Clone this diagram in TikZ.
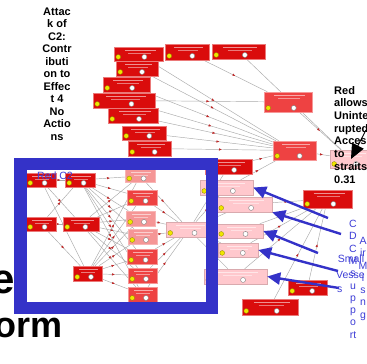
\documentclass[tikz,border=0pt]{standalone}
\usepackage{fontspec}
\setmainfont{Liberation Sans}
\usetikzlibrary{arrows.meta,decorations.markings,backgrounds}

\definecolor{boxred}{RGB}{218,12,12}
\definecolor{boxmid}{RGB}{238,66,66}
\definecolor{boxlight}{RGB}{245,150,150}
\definecolor{boxpink}{RGB}{255,200,205}
\definecolor{linkgray}{RGB}{170,170,170}
\definecolor{markred}{RGB}{190,40,40}
\definecolor{frameblue}{RGB}{52,50,200}
\definecolor{textblue}{RGB}{62,62,215}
\definecolor{dotyellow}{RGB}{240,230,0}

\begin{document}
\begin{tikzpicture}[x=1pt,y=-1pt,
  rbox/.style={fill=boxred,draw=boxred!55!white,line width=0.5pt,inner sep=0pt},
  mbox/.style={fill=boxmid,draw=boxmid!55!white,line width=0.5pt,inner sep=0pt},
  lbox/.style={fill=boxlight,draw=boxlight!70!white,line width=0.5pt,inner sep=0pt},
  pbox/.style={fill=boxpink,draw=boxpink!85!black,line width=0.5pt,inner sep=0pt},
  link/.style={draw=linkgray,line width=0.45pt,postaction={decorate},
    decoration={markings,mark=at position 0.5 with {\arrow[markred]{Latex[length=3pt,width=2.4pt]}}}},
  bluearrow/.style={draw=frameblue,line width=2.4pt,-{Triangle[length=13pt,width=12pt]}},
  bluetext/.style={text=textblue,inner sep=0pt,font=\fontsize{10.5}{12.3}\selectfont},
]
\useasboundingbox (0,0) rectangle (367,364);
\clip (0,0) rectangle (367,364);

% boxes: name/x/y/width/height/style
\foreach \n/\x/\y/\w/\h/\s in {
  ta/138.5/54/49/14/rbox, tb/187/52/44/16/rbox, tc/238.5/51.5/53/15/rbox,
  td/137/68.5/42/15/rbox, te/126.5/84.5/47/15/rbox, tf/124/100.5/62/15/rbox,
  tg/133/115.5/50/15/rbox, th/144/133/44/14/rbox, ti/149.5/148.5/43/15/rbox,
  tj/288/102/48/20/mbox, tk/294.5/150.5/43/19/mbox, tl/351/159/42/18/pbox,
  s1/41/180/30/14/rbox, s2/41/224/30/14/rbox,
  m1/80/180/30/14/rbox, m2/81/224/36/14/rbox, m3/87.5/273.5/29/15/rbox,
  c1/140/176/30/13/lbox, c2/142/197.5/30/15/mbox, c3/140.5/218.5/29/15/lbox,
  c4/142.5/236.5/29/15/lbox, c5/142/256.5/30/15/mbox, c6/142.5/275.5/29/15/mbox,
  c7/142.5/294.5/29/15/mbox, hub/189/229.5/46/15/pbox,
  e1/228.5/166.5/47/15/rbox, e2/226.5/187.5/53/15/pbox, e3/244.5/204.5/55/15/pbox,
  e4/240/231/46/14/pbox, e5/238/250/40/14/pbox, e6/235.5/276.5/63/15/pbox,
  f1/327.5/199/49/18/rbox, f2/307.5/287.5/39/15/rbox, f3/270/307/56/16/rbox}
{
  \node[\s,minimum width=\w pt,minimum height=\h pt] (\n) at (\x,\y) {};
  \draw[white,opacity=0.55,line width=0.7pt]
    ([xshift={0.22pt*\w},yshift=-3.3pt]\n.north west) -- ([xshift={-0.15pt*\w},yshift=-3.3pt]\n.north east);
  \draw[white,opacity=0.45,line width=0.7pt]
    ([xshift={0.3pt*\w},yshift=-6.3pt]\n.north west) -- ([xshift={-0.25pt*\w},yshift=-6.3pt]\n.north east);
  \filldraw[fill=dotyellow,draw=olive,line width=0.3pt] ([xshift=4.5pt,yshift=4.3pt]\n.south west) circle (2.4pt);
  \filldraw[fill=white,draw=gray,line width=0.4pt] ([xshift={0.12pt*\w},yshift=4.3pt]\n.south) circle (2.5pt);
}

% links under the boxes
\begin{scope}[on background layer]
\fill[white] (0,0) rectangle (367,364);
\foreach \a/\b in {tb/tj, tc/tl, ta/tk, td/tk, te/tk, tf/tj, tf/tk, tg/tk, th/tk, ti/tk, tj/tl, tk/tl,
  s1/m1, s1/m2, s1/m3, s2/m1, s2/m2, s2/m3,
  e1/tk, e2/tk, e3/f1, e4/f1, e5/f1, e6/f1, f2/f1, f3/f1}
  \draw[link] (\a) -- (\b);
\foreach \a in {m1,m2,m3}
  \foreach \b in {c1,c2,c3,c4,c5,c6,c7}
    \draw[link] (\a) -- (\b);
\foreach \b in {c1,c2,c3,c4,c5,c6,c7}
  \draw[link] (\b) -- (hub);
\foreach \b in {e1,e2,e3,e4,e5,e6}
  \draw[link] (hub) -- (\b);
\end{scope}

% blue frame
\draw[frameblue,line width=12.5pt] (20.5,164) rectangle (212,308);

% blue arrows
\coordinate (a1) at (328,218);
\coordinate (a2) at (341,234);
\coordinate (a3) at (318,253);
\coordinate (a4) at (338,271);
\coordinate (a5) at (339,288);
\draw[bluearrow] (a1) -- (e2.east);
\draw[bluearrow] (a2) -- (e3.south east);
\draw[bluearrow] (a3) -- (e4.east);
\draw[bluearrow] (a4) -- (e5.east);
\draw[bluearrow] (a5) -- (e6.east);

% texts
\node[align=center,anchor=north,inner sep=0pt,font=\bfseries\fontsize{11}{12.5}\selectfont] (attack) at (57,7.5)
  {Attac\\k of\\C2:\\Contr\\ibuti\\on to\\Effec\\t 4\\No\\Actio\\ns};
\node[align=left,anchor=north west,inner sep=0pt,font=\bfseries\fontsize{11}{12.7}\selectfont] (redallows) at (334,86)
  {Red\\allows\\Uninte\\rupted\\Access\\to\\straits\\0.31};
\coordinate (blk) at (366,130);
\draw[line width=0.9pt,-{Triangle[length=15pt,width=13pt]}] (blk) -- (tl.center);

\node[bluetext,anchor=base west] (redc) at (37,179) {Red C2};
\node[bluetext,align=center,anchor=north] (cdcm) at (353,220) {C\\D\\C\\M\\s\\u\\p\\p\\o\\rt};
\node[bluetext,align=center,anchor=north] (airmis) at (363,237) {A\\ir\\M\\i\\s\\n\\g};
\node[bluetext,anchor=base] (small) at (351,262) {Small};
\node[bluetext,anchor=base west] (vesse) at (336,278) {Vesse};
\node[bluetext,anchor=base west] (vs) at (337,292) {s};

\node[anchor=base east,inner sep=0pt,font=\bfseries\fontsize{42}{42}\selectfont] (bige) at (15,293) {e};
\node[anchor=base west,inner sep=0pt,font=\bfseries\fontsize{36}{36}\selectfont] (bigorm) at (-6,337) {orm};
\end{tikzpicture}
\end{document}
